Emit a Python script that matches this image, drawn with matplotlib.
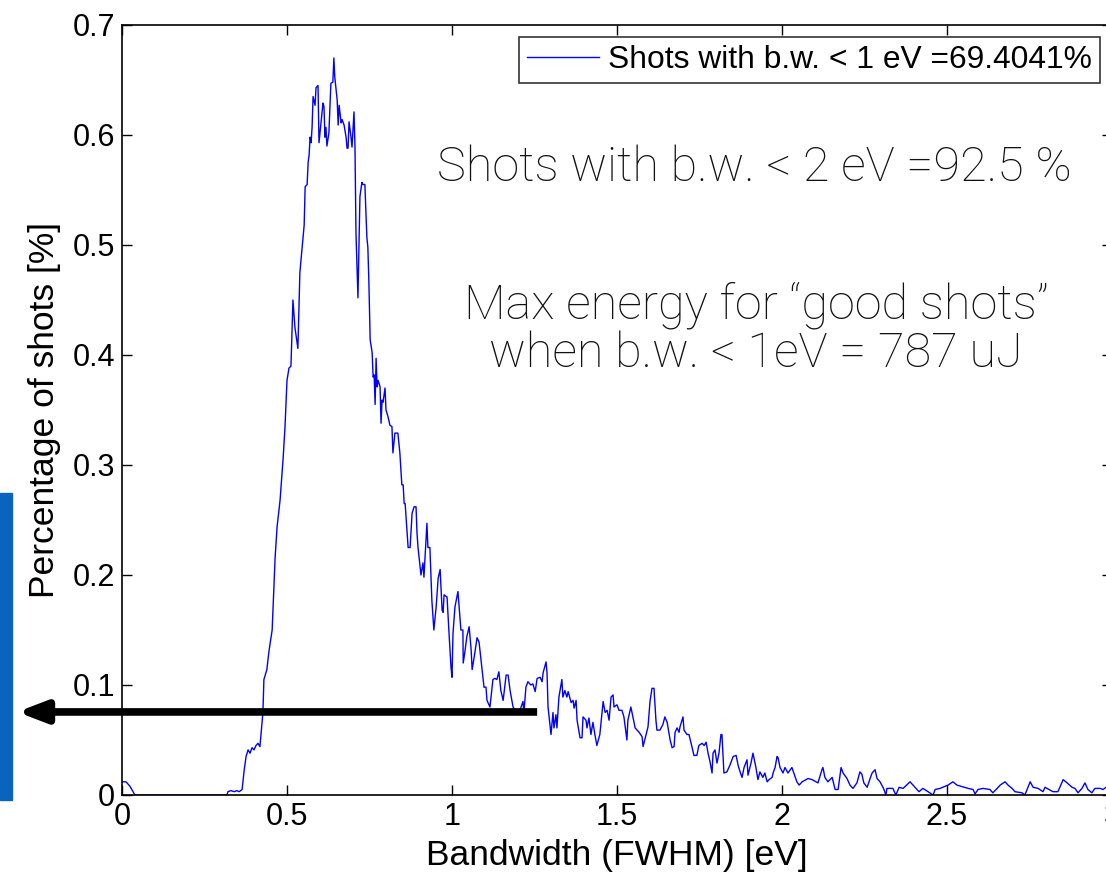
import matplotlib
matplotlib.use("Agg")
import matplotlib.pyplot as plt
from matplotlib.patches import Rectangle

# ---------------- data ----------------
bandwidth_ev = [
    0.000, 0.012, 0.024, 0.039, 0.318, 0.321, 0.330, 0.340, 0.348, 0.355,
    0.364, 0.370, 0.376, 0.382, 0.388, 0.394, 0.400, 0.406, 0.412, 0.418,
    0.427, 0.430, 0.439, 0.445, 0.455, 0.459, 0.464, 0.470, 0.479, 0.488,
    0.494, 0.500, 0.506, 0.512, 0.518, 0.524, 0.530, 0.533, 0.539, 0.552,
    0.555, 0.561, 0.564, 0.567, 0.570, 0.573, 0.576, 0.579, 0.585, 0.588,
    0.594, 0.597, 0.603, 0.609, 0.612, 0.615, 0.618, 0.621, 0.627, 0.633,
    0.639, 0.642, 0.645, 0.652, 0.655, 0.658, 0.664, 0.667, 0.673, 0.679,
    0.682, 0.685, 0.688, 0.694, 0.697, 0.703, 0.706, 0.709, 0.715, 0.721,
    0.727, 0.730, 0.736, 0.742, 0.745, 0.748, 0.752, 0.758, 0.761, 0.764,
    0.767, 0.770, 0.773, 0.776, 0.782, 0.785, 0.788, 0.791, 0.797, 0.800,
    0.806, 0.812, 0.818, 0.821, 0.827, 0.836, 0.842, 0.848, 0.852, 0.855,
    0.858, 0.864, 0.867, 0.873, 0.879, 0.885, 0.891, 0.894, 0.897, 0.906,
    0.912, 0.915, 0.924, 0.927, 0.933, 0.939, 0.945, 0.952, 0.958, 0.964,
    0.970, 0.973, 0.976, 0.985, 0.991, 0.997, 1.000, 1.003, 1.009, 1.018,
    1.027, 1.033, 1.034, 1.039, 1.045, 1.052, 1.058, 1.061, 1.067, 1.076,
    1.082, 1.091, 1.097, 1.103, 1.106, 1.115, 1.124, 1.130, 1.136, 1.142,
    1.148, 1.155, 1.164, 1.170, 1.176, 1.185, 1.197, 1.206, 1.215, 1.218,
    1.224, 1.230, 1.239, 1.245, 1.252, 1.258, 1.267, 1.273, 1.276, 1.285,
    1.288, 1.291, 1.300, 1.306, 1.309, 1.315, 1.318, 1.324, 1.333, 1.336,
    1.342, 1.348, 1.352, 1.361, 1.367, 1.370, 1.376, 1.379, 1.388, 1.394,
    1.397, 1.406, 1.409, 1.415, 1.421, 1.427, 1.433, 1.439, 1.448, 1.458,
    1.464, 1.470, 1.476, 1.482, 1.488, 1.491, 1.500, 1.506, 1.515, 1.521,
    1.530, 1.533, 1.542, 1.548, 1.555, 1.561, 1.567, 1.576, 1.579, 1.588,
    1.594, 1.600, 1.606, 1.612, 1.618, 1.621, 1.630, 1.639, 1.645, 1.652,
    1.661, 1.667, 1.673, 1.676, 1.682, 1.688, 1.691, 1.700, 1.703, 1.712,
    1.718, 1.727, 1.733, 1.742, 1.748, 1.758, 1.764, 1.770, 1.776, 1.782,
    1.788, 1.791, 1.797, 1.803, 1.809, 1.815, 1.818, 1.824, 1.833, 1.842,
    1.852, 1.861, 1.867, 1.873, 1.879, 1.885, 1.894, 1.897, 1.906, 1.912,
    1.921, 1.927, 1.933, 1.942, 1.948, 1.955, 1.961, 1.970, 1.973, 1.979,
    1.985, 1.988, 1.994, 2.003, 2.009, 2.018, 2.030, 2.045, 2.052, 2.061,
    2.079, 2.091, 2.109, 2.121, 2.124, 2.130, 2.139, 2.152, 2.161, 2.170,
    2.179, 2.185, 2.197, 2.206, 2.215, 2.227, 2.236, 2.242, 2.248, 2.258,
    2.267, 2.273, 2.282, 2.288, 2.297, 2.306, 2.309, 2.315, 2.318, 2.336,
    2.345, 2.355, 2.367, 2.388, 2.397, 2.415, 2.427, 2.458, 2.464, 2.479,
    2.503, 2.518, 2.530, 2.552, 2.564, 2.579, 2.585, 2.594, 2.609, 2.630,
    2.639, 2.652, 2.661, 2.676, 2.685, 2.697, 2.706, 2.727, 2.736, 2.752,
    2.761, 2.776, 2.791, 2.797, 2.821, 2.836, 2.842, 2.852, 2.864, 2.879,
    2.888, 2.897, 2.909, 2.918, 2.927, 2.939, 2.948, 2.964, 2.973, 2.982,
    3.000,
]
percentage_of_shots = [
    0.012, 0.012, 0.008, 0.000, 0.000, 0.003, 0.004, 0.003, 0.004, 0.003,
    0.005, 0.022, 0.035, 0.041, 0.038, 0.043, 0.041, 0.045, 0.047, 0.044,
    0.075, 0.105, 0.114, 0.130, 0.150, 0.180, 0.216, 0.244, 0.268, 0.305,
    0.335, 0.377, 0.388, 0.390, 0.450, 0.425, 0.412, 0.406, 0.475, 0.518,
    0.553, 0.555, 0.575, 0.582, 0.598, 0.593, 0.607, 0.635, 0.627, 0.643,
    0.645, 0.593, 0.611, 0.629, 0.626, 0.598, 0.607, 0.590, 0.602, 0.647,
    0.648, 0.670, 0.652, 0.632, 0.609, 0.627, 0.611, 0.614, 0.609, 0.598,
    0.588, 0.588, 0.612, 0.598, 0.589, 0.621, 0.589, 0.511, 0.452, 0.544,
    0.557, 0.555, 0.555, 0.507, 0.498, 0.468, 0.414, 0.402, 0.380, 0.382,
    0.355, 0.397, 0.371, 0.377, 0.371, 0.338, 0.359, 0.357, 0.370, 0.350,
    0.344, 0.336, 0.335, 0.311, 0.329, 0.329, 0.311, 0.282, 0.282, 0.265,
    0.265, 0.238, 0.225, 0.225, 0.256, 0.262, 0.262, 0.238, 0.225, 0.200,
    0.211, 0.198, 0.247, 0.225, 0.225, 0.177, 0.150, 0.171, 0.197, 0.205,
    0.168, 0.166, 0.182, 0.180, 0.147, 0.116, 0.107, 0.147, 0.171, 0.185,
    0.150, 0.150, 0.120, 0.130, 0.144, 0.153, 0.132, 0.114, 0.125, 0.143,
    0.139, 0.114, 0.098, 0.098, 0.086, 0.080, 0.105, 0.106, 0.105, 0.112,
    0.095, 0.086, 0.109, 0.109, 0.095, 0.080, 0.075, 0.077, 0.085, 0.075,
    0.098, 0.103, 0.100, 0.101, 0.094, 0.106, 0.107, 0.103, 0.111, 0.121,
    0.111, 0.080, 0.055, 0.075, 0.061, 0.073, 0.061, 0.089, 0.105, 0.089,
    0.095, 0.089, 0.094, 0.084, 0.086, 0.079, 0.086, 0.068, 0.052, 0.052,
    0.071, 0.068, 0.061, 0.070, 0.055, 0.066, 0.055, 0.045, 0.055, 0.085,
    0.075, 0.077, 0.068, 0.089, 0.091, 0.080, 0.082, 0.077, 0.077, 0.071,
    0.050, 0.068, 0.080, 0.071, 0.061, 0.059, 0.057, 0.053, 0.044, 0.055,
    0.062, 0.085, 0.097, 0.097, 0.068, 0.059, 0.059, 0.064, 0.071, 0.066,
    0.050, 0.043, 0.044, 0.057, 0.061, 0.057, 0.062, 0.071, 0.059, 0.055,
    0.055, 0.044, 0.036, 0.036, 0.045, 0.047, 0.045, 0.048, 0.038, 0.030,
    0.020, 0.038, 0.041, 0.029, 0.038, 0.055, 0.055, 0.020, 0.021, 0.027,
    0.035, 0.036, 0.027, 0.021, 0.016, 0.025, 0.032, 0.018, 0.029, 0.038,
    0.025, 0.014, 0.021, 0.016, 0.020, 0.012, 0.014, 0.016, 0.020, 0.025,
    0.035, 0.034, 0.025, 0.020, 0.025, 0.020, 0.025, 0.012, 0.009, 0.012,
    0.015, 0.014, 0.011, 0.023, 0.025, 0.016, 0.012, 0.016, 0.005, 0.005,
    0.025, 0.020, 0.015, 0.009, 0.006, 0.011, 0.021, 0.019, 0.011, 0.007,
    0.015, 0.020, 0.023, 0.015, 0.012, 0.007, 0.005, 0.000, 0.006, 0.006,
    0.000, 0.007, 0.006, 0.012, 0.009, 0.003, 0.006, 0.000, 0.005, 0.006,
    0.009, 0.012, 0.009, 0.007, 0.006, 0.005, 0.001, 0.005, 0.006, 0.005,
    0.002, 0.006, 0.009, 0.012, 0.009, 0.006, 0.003, 0.002, 0.000, 0.012,
    0.007, 0.006, 0.003, 0.007, 0.003, 0.003, 0.007, 0.014, 0.011, 0.007,
    0.006, 0.002, 0.006, 0.011, 0.005, 0.002, 0.006, 0.006, 0.005, 0.007,
    0.005,
]

x_ticks = [0, 0.5, 1, 1.5, 2, 2.5, 3]
x_tick_labels = ["0", "0.5", "1", "1.5", "2", "2.5", "3"]
y_ticks = [0, 0.1, 0.2, 0.3, 0.4, 0.5, 0.6, 0.7]
y_tick_labels = ["0", "0.1", "0.2", "0.3", "0.4", "0.5", "0.6", "0.7"]

legend_label = "Shots with b.w. < 1 eV =69.4041%"
note_1 = "Shots with b.w. < 2 eV =92.5 %"
note_2 = "Max energy for \u201cgood shots\u201d\nwhen b.w. < 1eV = 787 uJ"
arrow_level = 0.0755
arrow_tail_x = 1.258
arrow_tip_x = -0.318

# ---------------- figure ----------------
W, H = 1106, 873
fig = plt.figure(figsize=(W / 100, H / 100), dpi=100)
plt.rcParams['font.family'] = ['Liberation Sans', 'DejaVu Sans']

ax = fig.add_axes([122 / W, 78 / H, 990 / W, 770 / H])
ax.plot(bandwidth_ev, percentage_of_shots, color='#0000ff', lw=1.0,
        label=legend_label)
ax.set_xlim(0, 3)
ax.set_ylim(0, 0.7)
ax.set_xticks(x_ticks)
ax.set_xticklabels(x_tick_labels)
ax.set_yticks(y_ticks)
ax.set_yticklabels(y_tick_labels)
ax.tick_params(direction='in', length=7, width=1, top=True, right=True,
               labelsize=22, pad=5, colors='black')
for s in ax.spines.values():
    s.set_linewidth(1.2)
ax.set_xlabel("Bandwidth (FWHM) [eV]", fontsize=25.5, labelpad=5)
ax.set_ylabel("Percentage of shots [%]", fontsize=25.5, labelpad=8)

leg = ax.legend(loc='upper right', bbox_to_anchor=(1100 / W, 1 - 37 / H),
                bbox_transform=fig.transFigure, fontsize=22.9, frameon=True,
                fancybox=False, handlelength=2.25, handletextpad=0.3,
                borderpad=0.25, borderaxespad=0)
leg.get_frame().set_edgecolor('black')
leg.get_frame().set_linewidth(1.2)

light = dict(family=['Roboto', 'DejaVu Sans'], fontweight='light')
fig.text(754 / W, 1 - 168 / H, note_1, ha='center', va='center',
         fontsize=35, color='#111111', **light)
fig.text(756 / W, 1 - 329 / H, note_2, ha='center', va='center',
         fontsize=35, color='#111111', linespacing=1.05, **light)

ax.annotate("", xy=(arrow_tip_x, arrow_level), xytext=(arrow_tail_x, arrow_level),
            xycoords='data', textcoords='data', annotation_clip=False,
            arrowprops=dict(arrowstyle='-|>,head_length=1.7,head_width=0.65',
                            lw=5.5, color='black', shrinkA=0, shrinkB=0,
                            capstyle='butt'))

fig.patches.append(Rectangle((0, 73 / H), 12 / W, 307 / H,
                             transform=fig.transFigure, color='#0a64be'))

fig.savefig('out.png', dpi=100)
